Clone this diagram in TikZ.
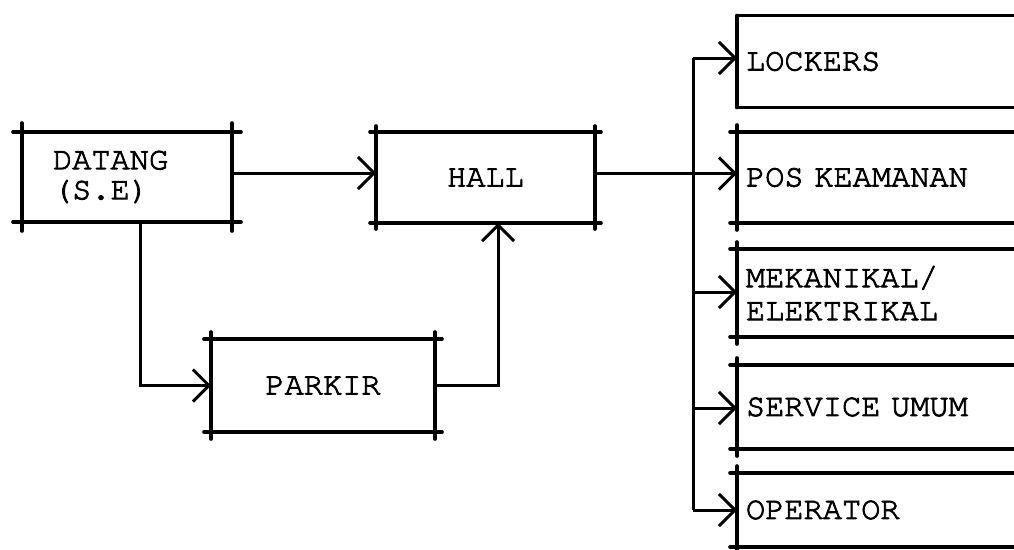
\documentclass[tikz,border=0pt]{standalone}
\usepackage{fontspec}
\usepackage{graphicx}
\usetikzlibrary{arrows.meta}
\newfontfamily\cursorfont[FakeBold=2.5]{TeX Gyre Cursor}
\newcommand\twfont{\fontsize{32}{30}\selectfont\cursorfont}
\newcommand\T[1]{\scalebox{1.0}[1]{#1}}
\newcommand\frameit[2]{%
  \draw[edge] ([xshift=-#2 pt]#1.north west) -- ([xshift=#2 pt]#1.north east);
  \draw[edge] ([xshift=-#2 pt]#1.south west) -- ([xshift=#2 pt]#1.south east);
  \draw[edge] ([yshift=#2 pt]#1.north west) -- ([yshift=-#2 pt]#1.south west);
  \draw[edge] ([yshift=#2 pt]#1.north east) -- ([yshift=-#2 pt]#1.south east);}
\tikzset{
  box/.style={rectangle, draw=none, inner sep=0pt, outer sep=0pt, font=\twfont},
  rbox/.style={box, minimum width=303pt, text width=285pt, inner xsep=9pt, align=left, anchor=west},
  edge/.style={line width=3.6pt, line cap=round},
  conn/.style={line width=3pt},
  arr/.style={conn, -{Straight Barb[length=16pt,width=32pt,line width=3pt]}}
}
\begin{document}
\begin{tikzpicture}[x=1pt,y=-1pt]
\useasboundingbox (0,0) rectangle (1014,549);
\clip (0,0) rectangle (1014,549);
% left boxes
\node[box, minimum width=210pt, minimum height=90pt, text width=148pt, inner xsep=31pt, align=left] (D) at (127,177) {\T{DATANG}\\\T{(S.E)}};
\node[box, minimum width=219pt, minimum height=91pt] (H) at (485.5,177.5) {\T{HALL}};
\node[box, minimum width=224pt, minimum height=93pt] (K) at (323,385.5) {\T{PARKIR}};
% right boxes
\node[rbox, minimum height=92pt] (L) at (737,61.5) {\T{LOCKERS}};
\node[rbox, minimum height=91pt] (P) at (737,177.5) {\T{POS KEAMANAN}};
\node[rbox, minimum height=88pt] (M) at (737,293) {\T{MEKANIKAL/}\\[3pt]\T{ELEKTRIKAL}};
\node[rbox, minimum height=84pt] (S) at (737,407) {\T{SERVICE UMUM}};
\node[rbox, minimum height=74pt] (O) at (737,510) {\T{OPERATOR}};
% frames
\frameit{D}{9}
\frameit{H}{6}
\frameit{K}{7}
\frameit{L}{0}
\frameit{P}{7}
\frameit{M}{7}
\frameit{S}{7}
\frameit{O}{7}
% connectors
\coordinate (dOut) at ([yshift=4pt]D.east);
\coordinate (hOut) at ([yshift=4pt]H.east);
\draw[arr] (dOut) -- (H.west |- dOut);
\draw[arr] ([xshift=13pt]D.south) |- (K.west);
\draw[arr] (K.east) -| ([xshift=12.5pt]H.south);
\coordinate (tL) at (693,58);
\coordinate (tM) at (693,292);
\coordinate (tS) at (693,408);
\coordinate (tO) at (693,510);
\draw[conn] (tL) -- (tO);
\draw[arr] (hOut) -- (P.west |- hOut);
\draw[arr] (tL) -- (L.west |- tL);
\draw[arr] (tM) -- (M.west |- tM);
\draw[arr] (tS) -- (S.west |- tS);
\draw[arr] (tO) -- (O.west |- tO);
\end{tikzpicture}
\end{document}
